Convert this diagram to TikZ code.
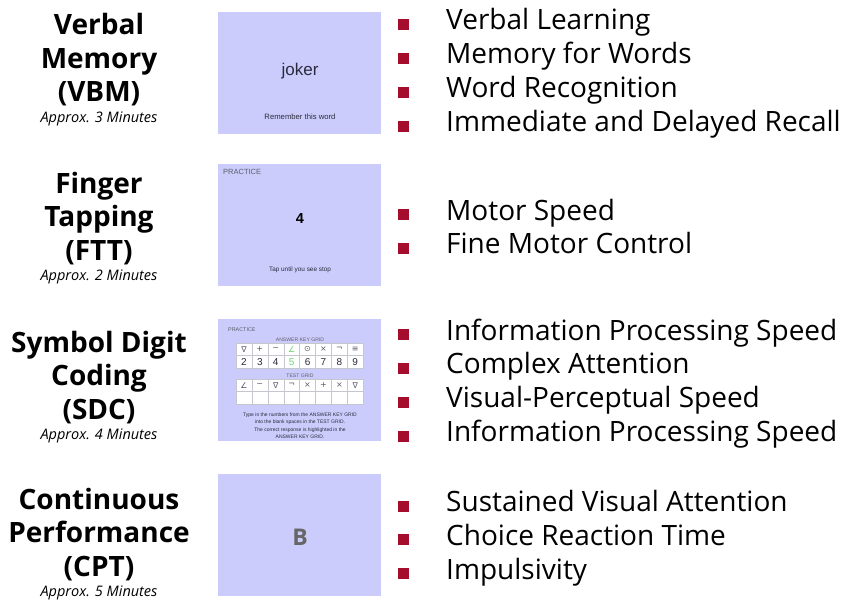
\documentclass[tikz,border=0pt]{standalone}
\usepackage{fontspec}
\setmainfont{Open Sans}
\newfontfamily\slidefont{Liberation Sans}
\newfontfamily\glyphfont{DejaVu Sans}
\usepackage{xcolor}
\definecolor{SlideFill}{HTML}{CCCCFC}
\definecolor{SlideInk}{HTML}{2A2A3E}
\definecolor{SlideGray}{HTML}{5C5C6C}
\definecolor{GridLine}{HTML}{C6C6CE}
\definecolor{HitGreen}{HTML}{6CD66C}
\definecolor{BulletRed}{HTML}{A50D2D}
\definecolor{LetterGray}{HTML}{666666}
\usetikzlibrary{positioning}
\newcommand{\sqbullet}{\llap{\textcolor{BulletRed}{\rule{11pt}{11pt}}\hspace{37pt}}}
\tikzset{
  heading/.style={
    align=center, anchor=base, inner sep=0pt,
    font=\fontsize{28}{33.5}\selectfont\bfseries
  },
  duration/.style={inner sep=0pt, font=\fontsize{14.5}{17}\selectfont\itshape},
  item/.style={
    anchor=base west, inner sep=0pt, text height=21pt, text depth=7.5pt,
    font=\fontsize{28}{33.5}\selectfont, execute at begin node=\sqbullet
  },
  next item/.style={item, below right=5pt and 0pt of #1.south west, anchor=north west},
  slide/.style={
    rectangle, fill=SlideFill, inner sep=0pt,
    minimum width=163pt, minimum height=122pt
  },
  slide text/.style={inner sep=0pt, text=SlideInk, font=\slidefont\fontsize{#1}{#1}\selectfont},
  cell/.style={
    rectangle, draw=GridLine, fill=white, line width=0.4pt, inner sep=0pt,
    minimum width=15.9pt, minimum height=12.5pt
  },
}
\begin{document}
\begin{tikzpicture}[x=1pt, y=-1pt]
  \useasboundingbox (0,0) rectangle (847,602);

  % Verbal Memory
  \node[heading] (vbm) at (99,102) {Verbal\\Memory\\(VBM)};
  \node[duration, below=5.5pt of vbm] (vbmtime) {Approx. 3 Minutes};
  \node[slide] (vbmshot) at (299.5,73) {};
  \node[slide text=17, anchor=base] (vbmword) at (300,76) {joker};
  \node[slide text=7.7, anchor=base] (vbmcue) at (300,120) {Remember this word};
  \node[item] (vbm1) at (446,30) {Verbal Learning};
  \node[next item=vbm1] (vbm2) {Memory for Words};
  \node[next item=vbm2] (vbm3) {Word Recognition};
  \node[next item=vbm3] (vbm4) {Immediate and Delayed Recall};

  % Finger Tapping
  \node[heading] (ftt) at (99,260) {Finger\\Tapping\\(FTT)};
  \node[duration, below=5.5pt of ftt] (ftttime) {Approx. 2 Minutes};
  \node[slide] (fttshot) at (299.5,225) {};
  \node[slide text=7.5, anchor=base west, text=SlideGray] (fttmode) at (223,175) {PRACTICE};
  \node[slide text=14.5, anchor=base, text=black] (fttdigit) at (300,223) {\bfseries 4};
  \node[slide text=6.4, anchor=base] (fttcue) at (300,271) {Tap until you see stop};
  \node[item] (ftt1) at (446,220) {Motor Speed};
  \node[next item=ftt1] (ftt2) {Fine Motor Control};

  % Symbol Digit Coding
  \node[heading] (sdc) at (99,419) {Symbol Digit\\Coding\\(SDC)};
  \node[duration, below=5.5pt of sdc] (sdctime) {Approx. 4 Minutes};
  \node[slide] (sdcshot) at (299.5,380) {};
  \node[slide text=5.4, anchor=base west, text=SlideGray] (sdcmode) at (228,331) {PRACTICE};
  \node[slide text=5.1, anchor=base, text=SlideGray] (keytitle) at (300,341) {ANSWER KEY GRID};
  \foreach \sym/\dig/\tint [count=\i] in {∇/2/SlideGray, +/3/SlideGray, ∼/4/SlideGray, ∠/5/HitGreen,
      ⊙/6/SlideGray, ×/7/SlideGray, ¬/8/SlideGray, ≡/9/SlideGray} {
    \node[cell, text=\tint, font=\glyphfont\fontsize{8}{8}\selectfont] (keysym\i)
      at ({236+15.9*(\i-0.5)},349.25) {\sym};
    \node[cell, text=\tint, font=\slidefont\fontsize{10}{10}\selectfont] (keydig\i)
      at ({236+15.9*(\i-0.5)},361.75) {\ifnum\i=4\else\color{SlideInk}\fi\dig};
  }
  \node[slide text=5.1, anchor=base, text=SlideGray] (testtitle) at (300,377) {TEST GRID};
  \foreach \sym [count=\i] in {∠, ∼, ∇, ¬, ×, +, ×, ∇} {
    \node[cell, text=SlideGray, font=\glyphfont\fontsize{8}{8}\selectfont] (testsym\i)
      at ({236+15.9*(\i-0.5)},385.25) {\sym};
    \node[cell] (testans\i) at ({236+15.9*(\i-0.5)},397.75) {};
  }
  \node[slide text=5, anchor=base, align=center, font=\slidefont\fontsize{5}{7.5}\selectfont] (sdccue)
    at (300,438.5) {Type in the numbers from the ANSWER KEY GRID\\into the blank spaces in the TEST GRID.\\
    The correct response is highlighted in the\\ANSWER KEY GRID.};
  \node[item] (sdc1) at (446,340) {Information Processing Speed};
  \node[next item=sdc1] (sdc2) {Complex Attention};
  \node[next item=sdc2] (sdc3) {Visual-Perceptual Speed};
  \node[next item=sdc3] (sdc4) {Information Processing Speed};

  % Continuous Performance
  \node[heading] (cpt) at (99,576) {Continuous\\Performance\\(CPT)};
  \node[duration, below=5.5pt of cpt] (cpttime) {Approx. 5 Minutes};
  \node[slide] (cptshot) at (299.5,535) {};
  \node[anchor=base, inner sep=0pt, text=LetterGray, font=\fontsize{23}{23}\selectfont\bfseries]
    (cptletter) at (300,545) {B};
  \node[item] (cpt1) at (446,511.5) {Sustained Visual Attention};
  \node[next item=cpt1] (cpt2) {Choice Reaction Time};
  \node[next item=cpt2] (cpt3) {Impulsivity};
\end{tikzpicture}
\end{document}
